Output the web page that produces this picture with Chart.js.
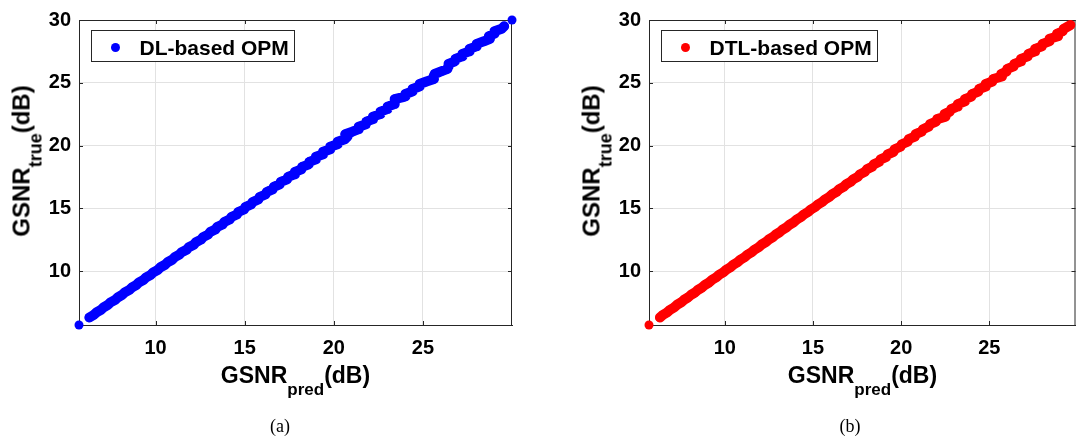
<!DOCTYPE html>
<html>
<head>
<meta charset="utf-8">
<script src="https://cdn.jsdelivr.net/npm/chart.js@4.4.1/dist/chart.umd.min.js"></script>
<style>
  html, body { margin: 0; padding: 0; background: #fff; }
  body { width: 1076px; height: 441px; overflow: hidden; position: relative; font-family: "Liberation Sans", Arial, sans-serif; }
  .panel { position: absolute; top: 0; height: 441px; }
  .xtitle, .ytitle { position: absolute; font-weight: bold; font-size: 23px; line-height: 23px; height: 23px; color: #000; white-space: nowrap; text-align: center; }
  .ytitle { width: 313px; font-size: 24px; line-height: 24px; height: 24px; transform: rotate(-90deg); transform-origin: 50% 50%; }
  .xtitle sub, .ytitle sub { font-size: 17px; line-height: 23px; vertical-align: -12px; }
  .ytitle sub { font-size: 18px; }
  .caption { position: absolute; top: 417px; width: 60px; text-align: center; font-family: "Liberation Serif", "Times New Roman", serif; font-size: 18px; line-height: 18px; color: #000; }
</style>
</head>
<body>
<div class="panel" style="left:0;width:540px"><canvas id="dl"></canvas></div>
<div class="panel" style="left:570px;width:510px"><canvas id="dtl"></canvas></div>

<div class="ytitle" style="left:-134.8px;top:149px">GSNR<sub>true</sub>(dB)</div>
<div class="xtitle" style="left:79px;width:433px;top:363.5px">GSNR<sub>pred</sub>(dB)</div>
<div class="caption" style="left:250px">(a)</div>

<div class="ytitle" style="left:435.2px;top:149px">GSNR<sub>true</sub>(dB)</div>
<div class="xtitle" style="left:649px;width:427px;top:363.5px">GSNR<sub>pred</sub>(dB)</div>
<div class="caption" style="left:820px">(b)</div>

<script>
(function(){
    'use strict'

    // tick labels
    var xTicks = [10, 15, 20, 25];
    var yTicks = [10, 15, 20, 25, 30];

    // DL-based OPM: true vs predicted GSNR (dB)
    var dlTrue = [5.7,
        6.3, 6.5, 6.7, 6.9,
        7.1, 7.3, 7.5, 7.7, 7.9,
        8.1, 8.3, 8.5, 8.7, 8.9,
        9.1, 9.3, 9.5, 9.7, 9.9,
        10.1, 10.3, 10.5, 10.7, 10.9,
        11.1, 11.3, 11.5, 11.7, 11.9,
        12.1, 12.3, 12.5, 12.7, 12.9,
        13.1, 13.3, 13.5, 13.7, 13.9,
        14.1, 14.3, 14.5, 14.7, 14.9,
        15.1, 15.3, 15.5, 15.7, 15.9,
        16.1, 16.3, 16.5, 16.7, 16.9,
        17.1, 17.3, 17.5, 17.7, 17.9,
        18.1, 18.3, 18.5, 18.7, 18.9,
        19.1, 19.3, 19.5, 19.7, 19.9,
        20.1, 20.3, 20.5, 20.7, 20.9,
        21.1, 21.3, 21.5, 21.7, 21.9,
        22.1, 22.3, 22.5, 22.7, 22.9,
        23.1, 23.3, 23.5, 23.7, 23.9,
        24.1, 24.3, 24.5, 24.7, 24.9,
        25.1, 25.3, 25.5, 25.7, 25.9,
        26.1, 26.3, 26.5, 26.7, 26.9,
        27.1, 27.3, 27.5, 27.7, 27.9,
        28.1, 28.3, 28.5, 28.7, 28.9,
        29.1, 29.3, 29.5,
        30.0];
    var dlPred = [5.7,
        6.28, 6.52, 6.68, 6.93,
        7.08, 7.32, 7.47, 7.73, 7.88,
        8.12, 8.27, 8.53, 8.68, 8.93,
        9.07, 9.33, 9.47, 9.73, 9.87,
        10.13, 10.27, 10.53, 10.67, 10.93,
        11.07, 11.33, 11.46, 11.74, 11.86,
        12.14, 12.26, 12.54, 12.66, 12.94,
        13.06, 13.35, 13.45, 13.75, 13.85,
        14.15, 14.25, 14.56, 14.64, 14.96,
        15.04, 15.35, 15.45, 15.76, 15.84,
        16.16, 16.24, 16.56, 16.63, 16.96,
        17.02, 17.38, 17.43, 17.79, 17.82,
        18.18, 18.22, 18.6, 18.62, 19.0,
        19.0, 19.4, 19.4, 19.8, 19.8,
        20.2, 20.22, 20.62, 20.76, 20.64,
        21.04, 21.4, 21.4, 21.8, 21.82,
        22.2, 22.2, 22.6, 22.62, 23.0,
        23.02, 23.4, 23.42, 23.42, 24.0,
        24.02, 24.4, 24.42, 24.8, 24.82,
        25.2, 25.62, 25.6, 25.66, 26.02,
        26.38, 26.42, 26.44, 26.8, 26.82,
        27.2, 27.22, 27.6, 27.62, 28.0,
        28.02, 28.42, 28.76, 28.7, 29.0,
        29.02, 29.42, 29.56,
        30.0];

    // DTL-based OPM: true vs predicted GSNR (dB)
    var dtlTrue = [5.7,
        6.3, 6.5, 6.7, 6.9,
        7.1, 7.3, 7.5, 7.7, 7.9,
        8.1, 8.3, 8.5, 8.7, 8.9,
        9.1, 9.3, 9.5, 9.7, 9.9,
        10.1, 10.3, 10.5, 10.7, 10.9,
        11.1, 11.3, 11.5, 11.7, 11.9,
        12.1, 12.3, 12.5, 12.7, 12.9,
        13.1, 13.3, 13.5, 13.7, 13.9,
        14.1, 14.3, 14.5, 14.7, 14.9,
        15.1, 15.3, 15.5, 15.7, 15.9,
        16.1, 16.3, 16.5, 16.7, 16.9,
        17.1, 17.3, 17.5, 17.7, 17.9,
        18.1, 18.3, 18.5, 18.7, 18.9,
        19.1, 19.3, 19.5, 19.7, 19.9,
        20.1, 20.3, 20.5, 20.7, 20.9,
        21.1, 21.3, 21.5, 21.7, 21.9,
        22.1, 22.3, 22.5, 22.7, 22.9,
        23.1, 23.3, 23.5, 23.7, 23.9,
        24.1, 24.3, 24.5, 24.7, 24.9,
        25.1, 25.3, 25.5, 25.7, 25.9,
        26.1, 26.3, 26.5, 26.7, 26.9,
        27.1, 27.3, 27.5, 27.7, 27.9,
        28.1, 28.3, 28.5, 28.7, 28.9,
        29.1, 29.3,
        29.6];
    var dtlPred = [5.7,
        6.32, 6.48, 6.72, 6.88,
        7.12, 7.28, 7.52, 7.68, 7.92,
        8.08, 8.32, 8.48, 8.72, 8.88,
        9.12, 9.28, 9.52, 9.68, 9.92,
        10.08, 10.32, 10.48, 10.72, 10.88,
        11.12, 11.28, 11.52, 11.68, 11.92,
        12.08, 12.32, 12.48, 12.72, 12.88,
        13.12, 13.28, 13.52, 13.68, 13.92,
        14.08, 14.32, 14.48, 14.72, 14.88,
        15.12, 15.28, 15.52, 15.68, 15.92,
        16.08, 16.33, 16.47, 16.73, 16.87,
        17.13, 17.27, 17.54, 17.66, 17.94,
        18.06, 18.35, 18.45, 18.76, 18.84,
        19.16, 19.24, 19.57, 19.63, 19.96,
        20.04, 20.37, 20.43, 20.78, 20.82,
        21.16, 21.24, 21.56, 21.64, 21.98,
        22.04, 22.52, 22.46, 22.76, 22.84,
        23.18, 23.22, 23.58, 23.62, 23.98,
        24.02, 24.38, 24.42, 24.8, 24.8,
        25.18, 25.22, 25.72, 25.68, 25.98,
        26.02, 26.38, 26.42, 26.8, 26.8,
        27.18, 27.22, 27.6, 27.6, 27.98,
        28.02, 28.4, 28.42, 28.9, 28.84,
        29.16, 29.22,
        29.6];

    var FONT = '"Liberation Sans", Arial, sans-serif';
    Chart.defaults.font.family = FONT;

    // box around the plot with inward tick marks, like MATLAB axes
    var framePlugin = {
        id: 'frame',
        beforeDatasetsDraw: function(chart){
            var ctx = chart.ctx, a = chart.chartArea;
            var xs = chart.scales.x, ys = chart.scales.y;
            ctx.save();
            ctx.strokeStyle = '#262626';
            ctx.lineWidth = 1;
            ctx.beginPath();
            ctx.moveTo(a.left, a.top + 0.5);
            ctx.lineTo(a.right, a.top + 0.5);
            ctx.moveTo(a.right - 0.5, a.top);
            ctx.lineTo(a.right - 0.5, a.bottom);
            xs.ticks.forEach(function(t){
                var px = Math.round(xs.getPixelForValue(t.value)) + 0.5;
                ctx.moveTo(px, a.bottom); ctx.lineTo(px, a.bottom - 4);
                ctx.moveTo(px, a.top); ctx.lineTo(px, a.top + 4);
            });
            ys.ticks.forEach(function(t){
                var py = Math.round(ys.getPixelForValue(t.value)) + 0.5;
                ctx.moveTo(a.left, py); ctx.lineTo(a.left + 4, py);
                ctx.moveTo(a.right, py); ctx.lineTo(a.right - 4, py);
            });
            ctx.stroke();
            ctx.restore();
        }
    };

    // legend with a border, placed in the upper left of the plot
    var boxLegendPlugin = {
        id: 'boxLegend',
        afterDraw: function(chart){
            var ctx = chart.ctx, a = chart.chartArea;
            var ds = chart.data.datasets[0];
            ctx.save();
            ctx.font = 'bold 21px ' + FONT;
            var tw = ctx.measureText(ds.label).width;
            var x0 = Math.round(a.left) + 12 + 0.5;
            var y0 = Math.round(a.top) + 10 + 0.5;
            var w = Math.round(48 + tw + 6), h = 31;
            ctx.fillStyle = '#fff';
            ctx.fillRect(x0, y0, w, h);
            ctx.strokeStyle = '#262626';
            ctx.lineWidth = 1;
            ctx.strokeRect(x0, y0, w, h);
            ctx.fillStyle = ds.backgroundColor;
            ctx.beginPath();
            ctx.arc(x0 + 24, y0 + 17, 4.5, 0, Math.PI * 2);
            ctx.fill();
            ctx.fillStyle = '#000';
            ctx.textBaseline = 'alphabetic';
            ctx.textAlign = 'left';
            ctx.fillText(ds.label, x0 + 48, y0 + 24.5);
            ctx.restore();
        }
    };

    function setTicks(values){
        return function(scale){
            scale.ticks = values.map(function(v){ return {value: v}; });
        };
    }

    function scatter(id, label, color, pred, truth, xMax, padRight){
        var points = pred.map(function(p, i){ return {x: p, y: truth[i]}; });
        var tickFont = {size: 20, weight: 'bold'};
        return new Chart(document.getElementById(id), {
            type: 'scatter',
            data: {
                datasets: [{
                    label: label,
                    data: points,
                    backgroundColor: color,
                    borderColor: color,
                    borderWidth: 10,
                    borderJoinStyle: 'round',
                    borderCapStyle: 'round',
                    showLine: true,
                    // the dense cloud is a band; leave the gaps at the ends open
                    segment: {
                        borderColor: function(c){
                            return Math.abs(c.p1.parsed.y - c.p0.parsed.y) > 0.4 ? 'rgba(0,0,0,0)' : color;
                        }
                    },
                    pointBorderWidth: 0,
                    pointRadius: 4.5,
                    pointHoverRadius: 4.5,
                    clip: false
                }]
            },
            options: {
                responsive: true,
                maintainAspectRatio: false,
                animation: false,
                layout: {padding: {top: 12, right: padRight, left: 0, bottom: 0}},
                plugins: {
                    legend: {display: false},
                    tooltip: {enabled: false}
                },
                scales: {
                    x: {
                        type: 'linear',
                        min: 5.7,
                        max: xMax,
                        afterBuildTicks: setTicks(xTicks),
                        afterFit: function(s){ s.height = 116; },
                        grid: {color: '#e2e2e2', drawTicks: false},
                        border: {color: '#262626'},
                        ticks: {padding: 11, font: tickFont, color: '#000', maxRotation: 0, autoSkip: false}
                    },
                    y: {
                        type: 'linear',
                        min: 5.7,
                        max: 30,
                        afterBuildTicks: setTicks(yTicks),
                        afterFit: function(s){ s.width = 79; },
                        grid: {color: '#e2e2e2', drawTicks: false},
                        border: {color: '#262626'},
                        ticks: {padding: 8, font: tickFont, color: '#000', autoSkip: false}
                    }
                }
            },
            plugins: [framePlugin, boxLegendPlugin]
        });
    }

    scatter('dl', 'DL-based OPM', '#0000ff', dlPred, dlTrue, 30, 28);
    scatter('dtl', 'DTL-based OPM', '#ff0000', dtlPred, dtlTrue, 29.89, 0);
})();
</script>
</body>
</html>
